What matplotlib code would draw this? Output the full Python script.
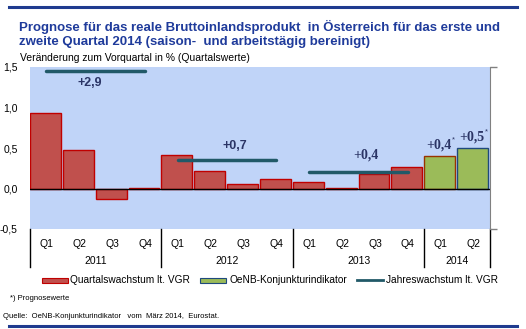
import matplotlib
matplotlib.use("Agg")
import matplotlib.pyplot as plt
import numpy as np
from matplotlib.patches import Rectangle
from matplotlib.lines import Line2D
import matplotlib.transforms as mtransforms

plt.rcParams['font.family'] = ['Liberation Sans', 'DejaVu Sans']

quarters = ["Q1", "Q2", "Q3", "Q4"] * 3 + ["Q1", "Q2"]
years = ["2011", "2012", "2013", "2014"]
year_sizes = [4, 4, 4, 2]

# quarterly growth (national accounts) 2011-2013, indicator forecast 2014
vgr_growth = [0.93, 0.48, -0.13, 0.01, 0.41, 0.21, 0.06, 0.12,
              0.08, 0.01, 0.18, 0.26]
indicator_growth = [0.4, 0.5]
indicator_labels = ["+0,4", "+0,5"]

# annual growth (right axis)
annual_growth = [2.9, 0.7, 0.4]
annual_labels = ["+2,9", "+0,7", "+0,4"]

yticks = [-0.5, 0.0, 0.5, 1.0, 1.5]
ytick_labels = ["-0,5", "0,0", "0,5", "1,0", "1,5"]

legend_labels = ["Quartalswachstum lt. VGR", "OeNB-Konjunkturindikator",
                 "Jahreswachstum lt. VGR"]

RED = "#C0504D"
RED_EDGE = "#C00000"
GREEN = "#9BBB59"
LINE = "#215968"
BG = "#C0D4F8"
NAVY = "#1F3B9B"
LABEL = "#2B3566"

W, H = 526, 329
fig = plt.figure(figsize=(W / 100, H / 100), dpi=100)
ax = fig.add_axes([30 / W, 1 - 229 / H, 460 / W, 162 / H])
ax.set_facecolor(BG)

n_vgr = len(vgr_growth)
x_vgr = np.arange(n_vgr)
x_ind = np.arange(n_vgr, n_vgr + len(indicator_growth))
ax.bar(x_vgr - 0.5, vgr_growth, width=0.94, align='edge',
       color=RED, edgecolor=RED_EDGE, linewidth=1.0, zorder=2)
ax.bar(x_ind - 0.5, indicator_growth, width=0.94, align='edge',
       color=GREEN, edgecolor=["#993300", "#1F497D"], linewidth=1.0, zorder=2)
ax.axhline(0, color="black", linewidth=1.0, zorder=3)

ax.set_xlim(-0.5, n_vgr + len(indicator_growth) - 0.5)
ax.set_ylim(-0.5, 1.5)
ax.set_yticks(yticks)
ax.set_yticklabels(ytick_labels, fontsize=7.5)
ax.tick_params(axis='y', length=0, pad=9)
ax.set_xticks([])
for s in ["top", "bottom", "left", "right"]:
    ax.spines[s].set_visible(False)

# secondary axis for annual growth
ax2 = ax.twinx()
ax2.set_ylim(-1, 3)
ax2.set_yticks([-1, 3])
ax2.set_yticklabels([])
ax2.tick_params(axis='y', length=5, color="#808080", width=1)
for s in ["top", "bottom", "left"]:
    ax2.spines[s].set_visible(False)
ax2.spines["right"].set_color("#808080")
ax2.set_xlim(ax.get_xlim())

for i, val in enumerate(annual_growth):
    start = i * 4
    ax2.plot([start, start + 3], [val, val], color=LINE, linewidth=2.5,
             solid_capstyle='round', zorder=4)

# value labels
label_pos = [(1.33, 1.30), (5.74, 0.52), (9.72, 0.41)]
label_fonts = ['Liberation Sans', 'Liberation Sans', 'Liberation Serif']
label_sizes = [9, 9, 10]
for (lx, ly), lab, fam, fs in zip(label_pos, annual_labels, label_fonts, label_sizes):
    ax.text(lx, ly, lab, ha='center', va='center', fontsize=fs,
            fontweight='bold', color=LABEL, family=fam)
for xi, val, lab in zip(x_ind, indicator_growth, indicator_labels):
    t = ax.text(xi - 0.05, val + 0.14, lab, ha='center', va='center', fontsize=10,
                fontweight='bold', color=LABEL, family='Liberation Serif')
    ax.annotate("*", xy=(1, 1), xycoords=t, xytext=(0.3, 1.5),
                textcoords='offset points', ha='left', va='top',
                fontsize=5.5, color=LABEL)

# category axis
trans = mtransforms.blended_transform_factory(ax.transData, ax.transAxes)
for i, q in enumerate(quarters):
    ax.text(i, -0.09, q, transform=trans, ha='center', va='center', fontsize=7.5)
edges = np.concatenate([[0], np.cumsum(year_sizes)]) - 0.5
for a, b, y in zip(edges[:-1], edges[1:], years):
    ax.text((a + b) / 2, -0.2, y, transform=trans, ha='center', va='center',
            fontsize=7.5)
for e in edges:
    ax.plot([e, e], [0, -0.235], transform=trans, color="black",
            linewidth=1.0, clip_on=False)

# legend row
ly = 1 - 280 / H
fig.add_artist(Rectangle((42 / W, ly - 2.5 / H), 26 / W, 5 / H,
                         facecolor=RED, edgecolor=RED_EDGE, linewidth=0.8))
fig.add_artist(Rectangle((200 / W, ly - 2.5 / H), 26 / W, 5 / H,
                         facecolor=GREEN, edgecolor="#1F497D", linewidth=0.8))
fig.add_artist(Line2D([357 / W, 383 / W], [ly, ly], color=LINE, linewidth=2))
for x0, lab in zip([70, 229, 386], legend_labels):
    fig.text(x0 / W, ly, lab, fontsize=7.3, va='center')

# header and footer
fig.add_artist(Line2D([9 / W, 517 / W], [1 - 7 / H, 1 - 7 / H],
                      color="#1F3B8F", linewidth=2.2))
fig.add_artist(Line2D([9 / W, 517 / W], [1 - 326 / H, 1 - 326 / H],
                      color="#1F3B8F", linewidth=2.2))
fig.text(19 / W, 1 - 27 / H,
         "Prognose für das reale Bruttoinlandsprodukt  in Österreich für das erste und",
         fontsize=9.5, fontweight='bold', color=NAVY, va='center')
fig.text(19 / W, 1 - 42 / H,
         "zweite Quartal 2014 (saison-  und arbeitstägig bereinigt)",
         fontsize=9.5, fontweight='bold', color=NAVY, va='center')
fig.text(20 / W, 1 - 58 / H, "Veränderung zum Vorquartal in % (Quartalswerte)",
         fontsize=7.5, va='center')
fig.text(10 / W, 1 - 298 / H, "*) Prognosewerte", fontsize=5.5, va='center')
fig.text(3 / W, 1 - 317 / H,
         "Quelle:  OeNB-Konjunkturindikator   vom  März 2014,  Eurostat.",
         fontsize=5.5, va='center')

fig.savefig("out.png", dpi=100)
